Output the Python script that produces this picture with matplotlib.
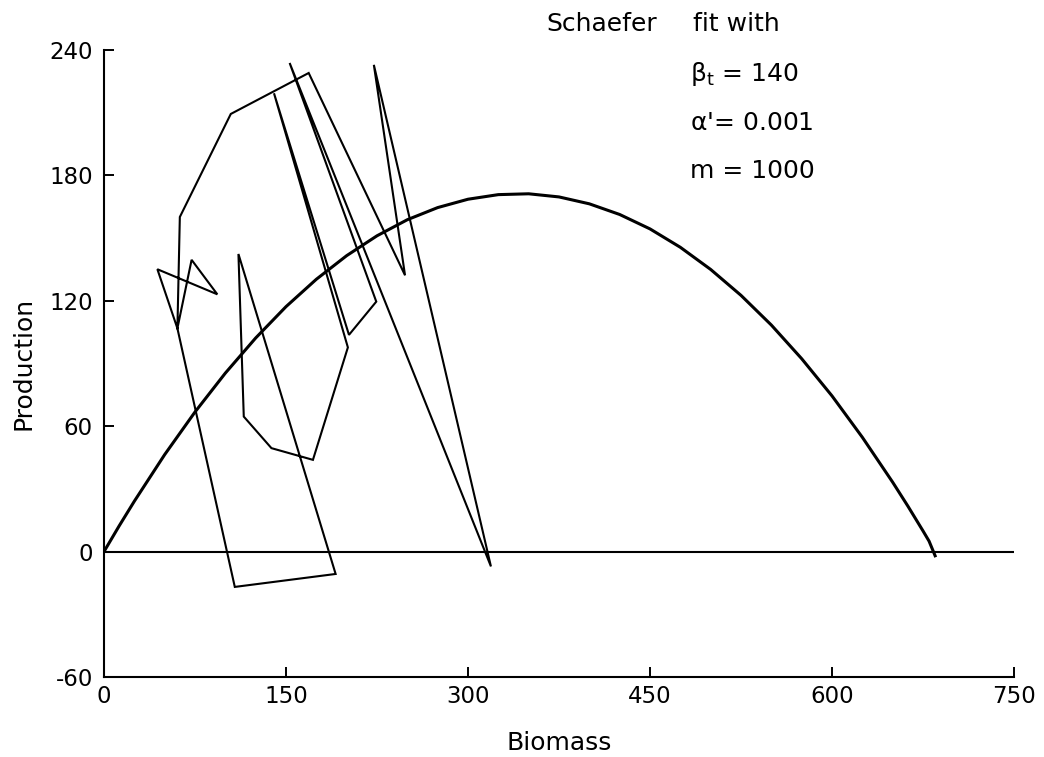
import numpy as np
import matplotlib
matplotlib.use("Agg")
import matplotlib.pyplot as plt

plt.rcParams['font.family'] = ['DejaVu Sans']
plt.rcParams['axes.unicode_minus'] = False

biomass = [60.5, 44.0, 93.4, 72.2, 60.5, 62.5, 104.5, 168.7, 248.1, 222.4,
           318.9, 153.0, 224.4, 201.9, 140.1, 201.0, 172.2, 138.0, 115.2,
           110.8, 190.9, 107.8, 60.5]
production = [106.8, 135.1, 123.1, 139.6, 106.8, 160.1, 209.4, 229.0, 132.2,
              232.9, -7.1, 233.8, 119.6, 103.7, 219.3, 97.7, 43.9, 49.5, 64.6,
              142.4, -10.7, -16.9, 106.8]

# fitted Schaefer curve, read along biomass
fit_biomass = [0, 12.5, 25, 50, 75, 100, 125, 150, 175, 200, 225, 250, 275,
               300, 325, 350, 375, 400, 425, 450, 475, 500, 525, 550, 575,
               600, 625, 650, 662.5, 675, 680, 685]
fit_production = [0, 12.3, 24.1, 46.4, 66.8, 85.4, 102.2, 117.2, 130.3,
                  141.6, 151.1, 158.8, 164.6, 168.6, 170.8, 171.2, 169.7,
                  166.4, 161.3, 154.4, 145.6, 135.0, 122.6, 108.4, 92.3, 74.5,
                  54.7, 33.2, 21.8, 9.9, 5.0, -2.0]

x_ticks = [0, 150, 300, 450, 600, 750]
y_ticks = [-60, 0, 60, 120, 180, 240]

W, H = 1044, 757
fig = plt.figure(figsize=(W / 100, H / 100), dpi=100)
ax = fig.add_axes([104 / W, 1 - 677 / H, (1014 - 104) / W, (677 - 50) / H])

ax.axhline(0, color='black', lw=1.5)
ax.plot(fit_biomass, fit_production, color='black', lw=2.2,
        solid_joinstyle='round')
ax.plot(biomass, production, color='black', lw=1.5, solid_joinstyle='miter')

ax.set_xlim(0, 750)
ax.set_ylim(-60, 240)
ax.set_xticks(x_ticks)
ax.set_yticks(y_ticks)
for side in ['top', 'right']:
    ax.spines[side].set_visible(False)
for side in ['left', 'bottom']:
    ax.spines[side].set_linewidth(1.5)
ax.tick_params(direction='in', length=7, width=1.4, labelsize=16.5, pad=6)
ax.tick_params(axis='y', pad=8)

ax.set_xlabel('Biomass', fontsize=18, labelpad=16)
ax.set_ylabel('Production', fontsize=18, labelpad=10)


def ftext(px, py, s, **kw):
    fig.text(px / W, 1 - py / H, s, fontsize=18, va='baseline', **kw)


ftext(546, 31, 'Schaefer')
ftext(693, 31, 'fit with')
ftext(690, 81, r'$\mathregular{\beta_t}$ = 140')
ftext(690, 130, r"$\mathregular{\alpha}$'= 0.001")
ftext(690, 178, 'm = 1000')

fig.savefig('out.png', dpi=100)
